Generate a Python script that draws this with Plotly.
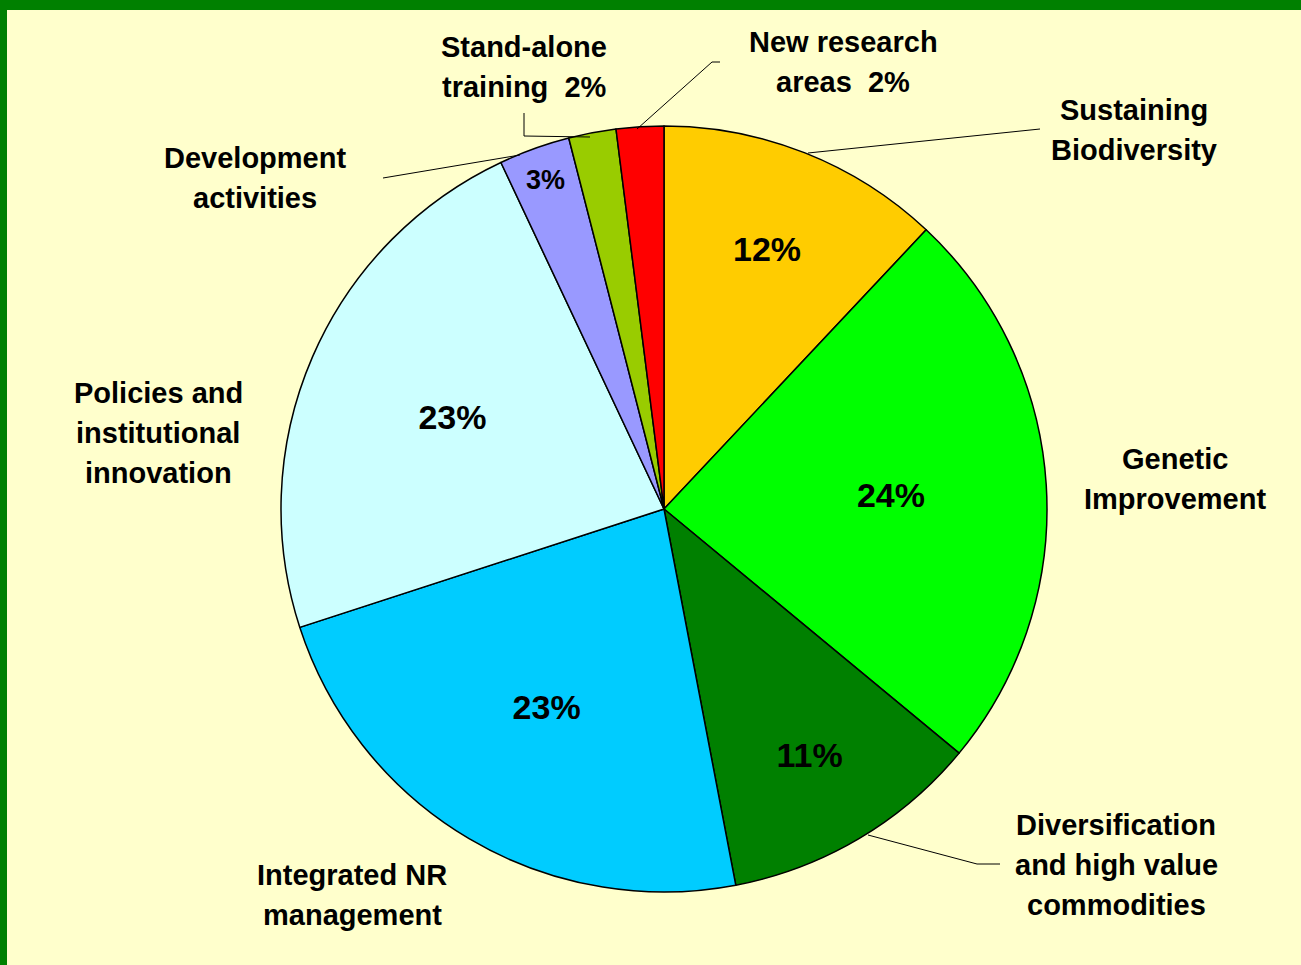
import plotly.graph_objects as go

# Slice data, clockwise from 12 o'clock
labels = ["Sustaining Biodiversity", "Genetic Improvement",
          "Diversification and high value commodities", "Integrated NR management",
          "Policies and institutional innovation", "Development activities",
          "Stand-alone training", "New research areas"]
shares = [12, 24, 11, 23, 23, 3, 2, 2]
colors = ["#FFCC00", "#00FF00", "#008000", "#00CCFF",
          "#CCFFFF", "#9999FF", "#99CC00", "#FF0000"]
# percent shown inside the slice (the two 2% slices carry it in their outside label)
inside_pct = [True, True, True, True, True, True, False, False]

# outside label lines for each slice
outside_lines = [["Sustaining", "Biodiversity"], ["Genetic", "Improvement"],
                 ["Diversification", "and high value", "commodities"], ["Integrated NR", "management"],
                 ["Policies and", "institutional", "innovation"], ["Development", "activities"],
                 ["Stand-alone", "training  2%"], ["New research", "areas  2%"]]

W, H = 1301, 965
BG = "#FFFFCC"
FRAME = "#008000"
FONT = "Liberation Sans, Arial, sans-serif"


def px(x, y):
    # pixel position -> paper coords (margins are zero so paper == page)
    return x / W, 1 - y / H


cx, cy, r = 664, 509, 383
x0, y1 = px(cx - r, cy - r)
x1, y0 = px(cx + r, cy + r)

fig = go.Figure()
fig.add_trace(
    go.Pie(
        labels=labels,
        values=shares,
        sort=False,
        direction="clockwise",
        rotation=0,
        marker=dict(colors=colors, line=dict(color="#000000", width=1.5)),
        texttemplate=["%{percent:.0%}" if s else "" for s in inside_pct],
        textposition="inside",
        insidetextorientation="horizontal",
        textfont=dict(family=FONT, size=[34, 34, 34, 34, 34, 27, 27, 27],
                      color="#000000", weight="bold"),
        domain=dict(x=[x0, x1], y=[y0, y1]),
        showlegend=False,
        hoverinfo="label+percent",
    )
)

# outside label: centre x and first line y (pixels); lines 40px apart
label_pos = [(1134, 110), (1175, 459), (1116, 825), (352, 875),
             (158, 393), (255, 158), (524, 47), (843, 42)]
for lines, (lx, ly) in zip(outside_lines, label_pos):
    for i, line in enumerate(lines):
        ax_, ay_ = px(lx, ly + 40 * i)
        fig.add_annotation(
            text=line, x=ax_, y=ay_, xref="paper", yref="paper",
            xanchor="center", yanchor="middle",
            showarrow=False, align="center",
            font=dict(family=FONT, size=29, color="#000000", weight="bold"),
        )

# leader lines (pixels)
leaders = [
    [(808, 153), (1040, 129)],
    [(868, 835), (977, 864), (1000, 864)],
    [(520, 155), (383, 178)],
    [(590, 137), (524, 136), (524, 113)],
    [(637, 129), (712, 62), (720, 62)],
]
shapes = []
for pts in leaders:
    path = ""
    for i, (lx, ly) in enumerate(pts):
        qx, qy = px(lx, ly)
        path += ("M" if i == 0 else " L") + f" {qx} {qy}"
    shapes.append(dict(type="path", path=path, xref="paper", yref="paper",
                       line=dict(color="#000000", width=1)))

# green frame on top and left edges
shapes.append(dict(type="rect", xref="paper", yref="paper", x0=0, x1=7 / W, y0=0, y1=1,
                   fillcolor=FRAME, line=dict(width=0), layer="above"))
shapes.append(dict(type="rect", xref="paper", yref="paper", x0=0, x1=1, y0=1 - 10 / H, y1=1,
                   fillcolor=FRAME, line=dict(width=0), layer="above"))

fig.update_layout(
    width=W,
    height=H,
    margin=dict(l=0, r=0, t=0, b=0),
    paper_bgcolor=BG,
    plot_bgcolor=BG,
    shapes=shapes,
    font=dict(family=FONT),
)

fig.write_html("out.html", config={"displayModeBar": False},
               post_script="document.body.style.margin='0';")
